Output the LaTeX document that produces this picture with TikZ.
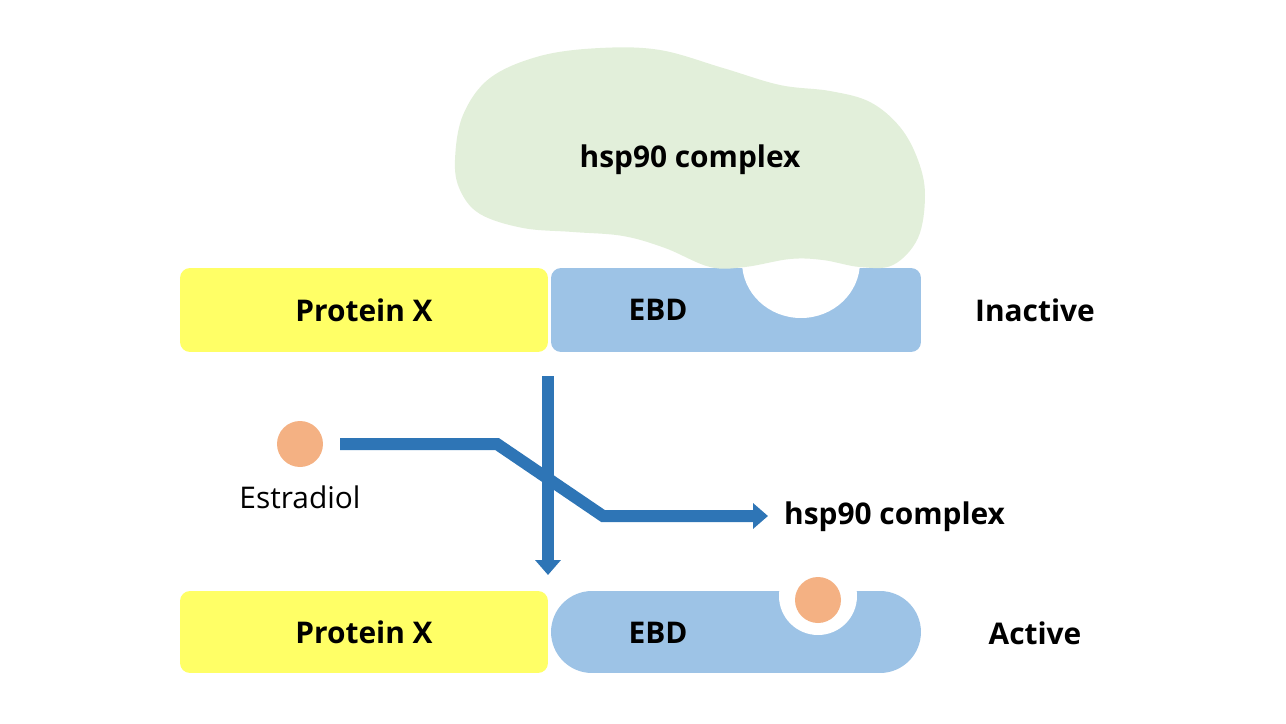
\documentclass[tikz,border=0pt]{standalone}
\usepackage{fontspec}
\setmainfont{Open Sans}
\usepackage{tikz}
\usetikzlibrary{arrows.meta, positioning}
\definecolor{pxyellow}{RGB}{255,255,102}
\definecolor{ebdblue}{RGB}{157,195,230}
\definecolor{hspgreen}{RGB}{226,239,218}
\definecolor{estorange}{RGB}{244,177,131}
\definecolor{flowblue}{RGB}{46,117,182}
\tikzstyle{protein} = [rectangle, rounded corners=0.2cm, fill=pxyellow, minimum width=7.36cm, inner sep=0]
\tikzstyle{ebd} = [rectangle, rounded corners=0.2cm, fill=ebdblue, minimum width=7.4cm, inner sep=0]
\tikzstyle{label} = [font=\fontsize{17}{20}\selectfont\bfseries]
\tikzstyle{flow} = [draw=flowblue, line width=0.24cm, -{Triangle[width=0.5cm, length=0.3cm]}]

\begin{document}
\begin{tikzpicture}[x=0.02cm, y=-0.02cm]
				\useasboundingbox (0, 0) rectangle (1286, 724);

				% inactive
				\node (ProtA) [protein, minimum height=1.68cm, label] at (364, 310) {Protein X};
				\node (EbdA) [ebd, minimum height=1.68cm] at (736, 310) {};
				\fill[white] (801, 262) ellipse [x radius=59, y radius=56];
				\fill[hspgreen] plot[smooth cycle, tension=0.6] coordinates {
					(455,160) (463,115) (490,78) (540,56) (600,48) (660,50)
					(723,68) (780,85) (830,91) (870,102) (900,127) (918,160)
					(925,195) (918,238) (893,265) (860,267) (823,260) (790,259)
					(745,267) (710,267) (665,248) (623,236) (573,232)
					(523,228) (480,214) (460,190)};
				\node (Hsp) [label] at (690, 160) {hsp90 complex};
				\node (EbdTextA) [label] at (658, 310) {EBD};
				\node (Inactive) [label] at (1035, 310) {Inactive};

				% estradiol
				\node (Est) [circle, fill=estorange, minimum size=0.92cm, inner sep=0] at (300, 444) {};
				\node (EstText) [font=\fontsize{17}{20}\selectfont, below=0.25cm of Est] {Estradiol};
				\node (HspOut) [label, anchor=west] at (778, 517) {hsp90 complex};

				% active
				\node (ProtB) [protein, minimum height=1.64cm, label] at (364, 632) {Protein X};
				\node (EbdB) [ebd, minimum height=1.64cm, rounded corners=0.82cm] at (736, 632) {};
				\fill[white] (818, 596) circle [radius=39];
				\node (EstB) [circle, fill=estorange, minimum size=0.92cm, inner sep=0] at (818, 600) {};
				\node (EbdTextB) [label] at (658, 633) {EBD};
				\node (Active) [label] at (1035, 633) {Active};

				% arrows
				\coordinate (DownIn) at (548, 376);
				\coordinate (DownOut) at (548, 575);
				\draw[flow] (DownIn) -- (DownOut);

				\coordinate (EstIn) at (340, 444);
				\coordinate (BendA) at (497, 444);
				\coordinate (BendB) at (603, 516);
				\coordinate (EstOut) at (768, 516);
				\draw[flow] (EstIn) -- (BendA) -- (BendB) -- (EstOut);
			\end{tikzpicture}
\end{document}
